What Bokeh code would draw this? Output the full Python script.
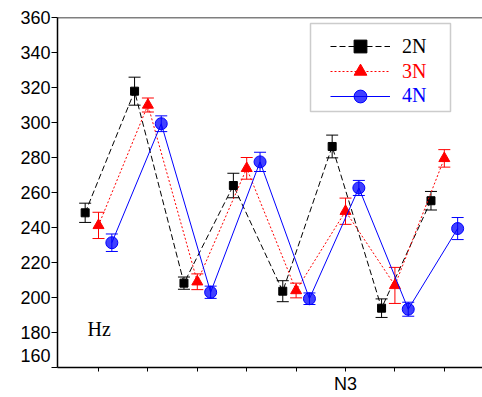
from bokeh.plotting import figure
from bokeh.models import (ColumnDataSource, Whisker, TeeHead, Legend, LegendItem, Label,
                          BoxAnnotation, Span, FixedTicker, Range1d)
from bokeh.embed import file_html
from bokeh.resources import INLINE

# ---- data ----
groups = [1, 2, 3, 4, 5, 6, 7, 8]
x_labels = ["", "", "", "", "", "N3", "", ""]
y_ticks = [160, 180, 200, 220, 240, 260, 280, 300, 320, 340, 360]

n2 = [248.4, 317.9, 208.2, 264.0, 203.6, 286.3, 193.9, 255.3]
n2_err = [5.5, 8.0, 3.5, 7.0, 6.0, 6.5, 5.3, 5.3]
n3 = [241.2, 310.0, 209.0, 273.8, 204.0, 249.3, 206.9, 279.5]
n3_err = [7.5, 4.0, 4.5, 6.2, 4.2, 7.5, 10.3, 5.0]
n4 = [231.3, 299.3, 203.0, 277.5, 199.3, 262.6, 193.3, 239.4]
n4_err = [5.0, 4.5, 3.5, 5.5, 3.3, 4.3, 4.0, 6.3]
series_names = ["2N", "3N", "4N"]

p = figure(width=482, height=397, output_backend="svg", toolbar_location=None,
           x_range=Range1d(0.17, 8.773), y_range=Range1d(160, 360),
           min_border_left=57, min_border_right=0, min_border_top=17, min_border_bottom=30)
p.outline_line_color = None
p.xgrid.visible = False
p.ygrid.visible = False
p.background_fill_color = "white"

# axes
p.xaxis.ticker = FixedTicker(ticks=groups)
p.xaxis.major_label_overrides = {g: lab for g, lab in zip(groups, x_labels)}
p.yaxis.ticker = FixedTicker(ticks=y_ticks)
# bottom label sits a little above the axis corner, as in the original
p.yaxis.major_label_overrides = {y_ticks[0]: str(y_ticks[0]) + "\n "}
for ax in (p.xaxis[0], p.yaxis[0]):
    ax.axis_line_width = 1.5
    ax.axis_line_color = "black"
    ax.major_tick_line_color = "black"
    ax.major_tick_in = 0
    ax.minor_tick_line_color = None
    ax.major_label_text_font = "Liberation Sans"
    ax.major_label_text_color = "black"
p.xaxis.major_tick_out = 4
p.xaxis.major_label_standoff = 2
p.xaxis.major_label_text_font_size = "18px"
p.yaxis.major_tick_out = 6
p.yaxis.major_label_standoff = 1
p.yaxis.major_label_text_font_size = "18px"

p.add_layout(Span(location=y_ticks[-1], dimension="width", line_color="black", line_width=1.5))

styles = [
    dict(off=-0.27, color="black", dash="6 3", marker="square", size=8, alpha=1.0),
    dict(off=0.0, color="red", dash="2 2", marker="triangle", size=11, alpha=1.0),
    dict(off=0.27, color="blue", dash="solid", marker="circle", size=12, alpha=0.75),
]

legend_rows = []
for vals, errs, st, name in zip([n2, n3, n4], [n2_err, n3_err, n4_err], styles, series_names):
    src = ColumnDataSource(dict(
        x=[g + st["off"] for g in groups],
        y=vals,
        upper=[v + e for v, e in zip(vals, errs)],
        lower=[v - e for v, e in zip(vals, errs)],
    ))
    ln = p.line("x", "y", source=src, line_color=st["color"], line_width=1, line_dash=st["dash"])
    sc = p.scatter("x", "y", source=src, marker=st["marker"], size=st["size"],
                   fill_color=st["color"], fill_alpha=st["alpha"], line_color=st["color"])
    wh = Whisker(base="x", upper="upper", lower="lower", source=src, dimension="height",
                 line_color=st["color"], line_width=1,
                 upper_head=TeeHead(size=12, line_color=st["color"], line_width=1),
                 lower_head=TeeHead(size=12, line_color=st["color"], line_width=1))
    p.add_layout(wh)
    legend_rows.append((name, st["color"], [ln, sc]))

# legend (frame-relative screen coords)
box = BoxAnnotation(left=253, right=393, top=344, bottom=256,
                    left_units="screen", right_units="screen", top_units="screen", bottom_units="screen",
                    fill_alpha=0, line_color="#555555", line_width=1.5)
p.add_layout(box)
row_y = [305, 280, 255.5]
for (name, color, rends), yy in zip(legend_rows, row_y):
    leg = Legend(items=[LegendItem(label=name, renderers=rends)], location=(273, yy),
                 glyph_width=60, glyph_height=32, padding=0, margin=0, spacing=0,
                 border_line_alpha=0, background_fill_alpha=0, label_standoff=12,
                 label_text_font="Liberation Serif", label_text_font_size="20px",
                 label_text_color=color, label_height=25)
    p.add_layout(leg, "center")

p.add_layout(Label(x=30, y=38.5, x_units="screen", y_units="screen", text="Hz",
                   text_font="Liberation Serif", text_font_size="20px", text_baseline="middle",
                   text_color="black"))

open("out.html", "w").write(file_html(p, INLINE))
